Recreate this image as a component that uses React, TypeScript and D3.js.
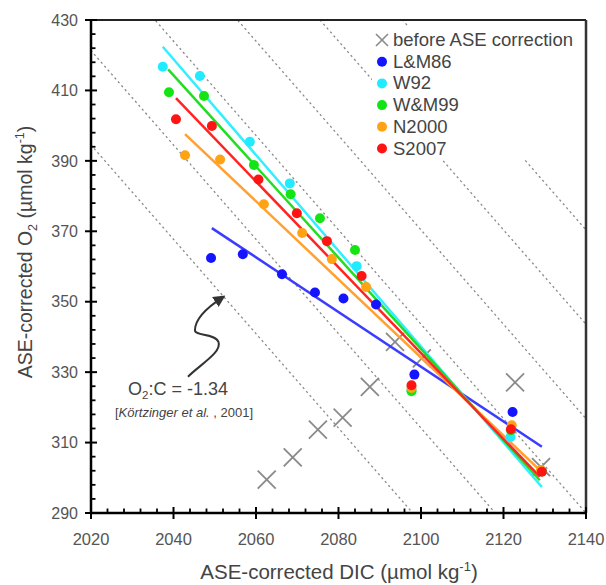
import React from 'react';
import * as d3 from 'd3';

const W = 606;
const H = 585;

const xTicks = [2020, 2040, 2060, 2080, 2100, 2120, 2140];
const yTicks = [290, 310, 330, 350, 370, 390, 410, 430];
const ratioIntercepts = [2098, 2118, 2140, 2160, 2180, 2200];
const ratioSlope = -1.34;

const beforeDIC = [2062.6, 2068.9, 2075.0, 2081.0, 2087.6, 2093.7, 2100.2, 2122.8, 2129.1];
const beforeO2 = [299.5, 305.8, 313.7, 317.1, 325.8, 338.6, 333.9, 327.1, 303.0];

const seriesNames = ['L&M86', 'W92', 'W&M99', 'N2000', 'S2007'];
const seriesColors = ['#1414ff', '#22eaff', '#14e414', '#ffa214', '#ff1414'];
const lineColors = ['#3c3cff', '#30f0ff', '#22dd22', '#ffa030', '#ff2424'];

const lmDIC = [2049.1, 2056.8, 2066.3, 2074.3, 2081.2, 2089.1, 2098.4, 2122.2];
const lmO2 = [362.4, 363.5, 357.8, 352.6, 350.9, 349.2, 329.3, 318.7];
const w92DIC = [2037.4, 2046.4, 2058.5, 2068.2, 2084.4, 2097.7, 2121.7, 2129.3];
const w92O2 = [416.7, 414.1, 395.4, 383.6, 360.1, 324.9, 311.6, 301.9];
const wmDIC = [2038.9, 2047.4, 2059.5, 2068.4, 2075.5, 2084.0, 2097.7, 2121.8, 2129.3];
const wmO2 = [409.5, 408.4, 388.8, 380.5, 373.7, 364.7, 324.6, 313.5, 301.8];
const n2000DIC = [2042.8, 2051.3, 2061.9, 2071.2, 2078.4, 2086.7, 2097.7, 2122.0, 2129.1];
const n2000O2 = [391.6, 390.4, 377.7, 369.5, 362.1, 354.2, 325.5, 314.9, 302.2];
const s2007DIC = [2040.6, 2049.3, 2060.6, 2069.9, 2077.2, 2085.6, 2097.7, 2121.8, 2129.3];
const s2007O2 = [401.8, 399.9, 384.7, 375.1, 367.2, 357.3, 326.3, 313.8, 301.7];

// fitted lines: start / end points
const fitStartDIC = [2049.3, 2037.4, 2038.7, 2042.8, 2040.6];
const fitStartO2 = [370.9, 422.4, 416.0, 397.6, 407.8];
const fitEndDIC = [2129.3, 2129.3, 2128.8, 2128.8, 2128.8];
const fitEndO2 = [308.8, 297.4, 299.3, 302.2, 300.3];

// squiggly arrow anchor points (data units): start, right bend, left bend, tip
const arrowDIC = [2043.5, 2050.9, 2045.2, 2052.1];
const arrowO2 = [328.7, 338.6, 341.9, 351.4];

const seriesDIC = [lmDIC, w92DIC, wmDIC, n2000DIC, s2007DIC];
const seriesO2 = [lmO2, w92O2, wmO2, n2000O2, s2007O2];

const FONT = "'Liberation Sans', Arial, Helvetica, sans-serif";

export default function App() {
  const x = d3.scaleLinear().domain([2020, 2140]).range([91, 586]);
  const y = d3.scaleLinear().domain([290, 430]).range([513, 20]);
  const [x0, x1] = x.range();
  const [y0, y1] = y.range();

  const xMinor = d3.range(2020, 2140.01, 4).filter((v) => !xTicks.includes(v));
  const yMinor = d3.range(290, 430.01, 4).filter((v) => !yTicks.includes(v));

  const line = d3.line<[number, number]>().x((d) => x(d[0])).y((d) => y(d[1]));

  const p = arrowDIC.map((d, i) => [x(d), y(arrowO2[i])]);
  const arrowPath =
    `M${p[0][0]},${p[0][1]} ` +
    `C${p[0][0] + 12},${p[0][1] - 12} ${p[1][0] + 4},${p[1][1] + 10} ${p[1][0]},${p[1][1]} ` +
    `C${p[1][0] - 4},${p[1][1] - 9} ${p[2][0]},${p[2][1] + 6} ${p[2][0]},${p[2][1]} ` +
    `C${p[2][0]},${p[2][1] - 12} ${p[3][0] - 14},${p[3][1] + 9} ${p[3][0]},${p[3][1]}`;

  const legendX = 382;
  const legendY0 = 40;
  const legendDy = 21.7;

  const xMark = (cx: number, cy: number, s: number, key: string, sw: number) => (
    <g key={key} stroke="#8a8a8a" strokeWidth={sw}>
      <line x1={cx - s} y1={cy - s} x2={cx + s} y2={cy + s} />
      <line x1={cx - s} y1={cy + s} x2={cx + s} y2={cy - s} />
    </g>
  );

  return (
    <svg width={W} height={H} style={{ position: 'absolute', left: 0, top: 0, background: '#fff' }} fontFamily={FONT}>
      <defs>
        <clipPath id="plot">
          <rect x={x0} y={y1} width={x1 - x0} height={y0 - y1} />
        </clipPath>
        <marker id="arr" viewBox="0 0 10 10" refX="8" refY="5" markerWidth="6" markerHeight="6" orient="auto">
          <path d="M0,0 L10,5 L0,10 z" fill="#333" />
        </marker>
      </defs>
      <rect width={W} height={H} fill="#fff" />

      {/* O2:C ratio lines */}
      <g clipPath="url(#plot)">
        {ratioIntercepts.map((c) => (
          <line
            key={c}
            x1={x(2000)}
            y1={y(290 + ratioSlope * (2000 - c))}
            x2={x(2160)}
            y2={y(290 + ratioSlope * (2160 - c))}
            stroke="#8a8a8a"
            strokeWidth={1.3}
            strokeDasharray="2.2,3"
          />
        ))}
      </g>

      {/* before ASE correction */}
      {beforeDIC.map((d, i) => xMark(x(d), y(beforeO2[i]), 9, 'b' + i, 1.8))}

      {/* fit lines */}
      {seriesNames.map((n, i) => (
        <path
          key={'l' + n}
          d={line([[fitStartDIC[i], fitStartO2[i]], [fitEndDIC[i], fitEndO2[i]]]) || ''}
          stroke={lineColors[i]}
          strokeWidth={2.5}
          fill="none"
        />
      ))}

      {/* points */}
      {seriesNames.map((n, i) => (
        <g key={'p' + n} fill={seriesColors[i]}>
          {seriesDIC[i].map((d, j) => (
            <circle key={j} cx={x(d)} cy={y(seriesO2[i][j])} r={5} />
          ))}
        </g>
      ))}

      {/* frame */}
      <line x1={x0} y1={y1} x2={x1} y2={y1} stroke="#222" strokeWidth={2} />
      <line x1={x1} y1={y1} x2={x1} y2={y0} stroke="#333" strokeWidth={2.5} />
      <line x1={x0} y1={y0} x2={x1} y2={y0} stroke="#000" strokeWidth={2.5} />
      <line x1={x0} y1={y1} x2={x0} y2={y0} stroke="#000" strokeWidth={2.5} />

      {/* y ticks */}
      {yTicks.map((t) => (
        <g key={'yt' + t}>
          <line x1={x0 - 6} x2={x0 + 6} y1={y(t)} y2={y(t)} stroke="#000" strokeWidth={2} />
          <text x={78} y={y(t)} dy="0.36em" textAnchor="end" fontSize={16} fill="#555">
            {t}
          </text>
        </g>
      ))}
      {yMinor.map((t) => (
        <line key={'ym' + t} x1={x0} x2={x0 + 4.5} y1={y(t)} y2={y(t)} stroke="#000" strokeWidth={1.8} />
      ))}

      {/* x ticks */}
      {xTicks.map((t) => (
        <g key={'xt' + t}>
          <line x1={x(t)} x2={x(t)} y1={y0 - 6} y2={y0 + 6} stroke="#000" strokeWidth={2} />
          <text x={x(t)} y={545} textAnchor="middle" fontSize={16.5} fill="#555">
            {t}
          </text>
        </g>
      ))}
      {xMinor.map((t) => (
        <line key={'xm' + t} x1={x(t)} x2={x(t)} y1={y0} y2={y0 - 4.5} stroke="#000" strokeWidth={1.8} />
      ))}

      {/* axis titles */}
      <text x={339} y={579} textAnchor="middle" fontSize={20.5} fill="#444">
        ASE-corrected DIC (µmol kg
        <tspan fontSize={13} dy={-8}>-1</tspan>
        <tspan dy={8}>)</tspan>
      </text>
      <text transform="translate(32,252) rotate(-90)" textAnchor="middle" fontSize={19.5} fill="#444">
        ASE-corrected O
        <tspan fontSize={12.5} dy={5}>2</tspan>
        <tspan dy={-5}> (µmol kg</tspan>
        <tspan fontSize={12.5} dy={-8}>-1</tspan>
        <tspan dy={8}>)</tspan>
      </text>

      {/* annotation */}
      <path d={arrowPath} fill="none" stroke="#333" strokeWidth={2} markerEnd="url(#arr)" />
      <text x={128} y={395} fontSize={18} fill="#444">
        O<tspan fontSize={11.5} dy={4}>2</tspan>
        <tspan dy={-4}>:C = -1.34</tspan>
      </text>
      <text x={184} y={417} textAnchor="middle" fontSize={13} fill="#444">
        [<tspan fontStyle="italic">Körtzinger et al.</tspan> , 2001]
      </text>

      {/* legend */}
      <rect x={372} y={26} width={211} height={134} fill="#fff" />
      {xMark(legendX, legendY0, 6, 'lgx', 1.6)}
      <text x={393} y={legendY0 + 6} fontSize={18.5} fill="#444">
        before ASE correction
      </text>
      {seriesNames.map((n, i) => (
        <g key={'lg' + n}>
          <circle cx={legendX} cy={legendY0 + legendDy * (i + 1)} r={5} fill={seriesColors[i]} />
          <text x={393} y={legendY0 + legendDy * (i + 1) + 6} fontSize={18.5} fill="#444">
            {n}
          </text>
        </g>
      ))}
    </svg>
  );
}
